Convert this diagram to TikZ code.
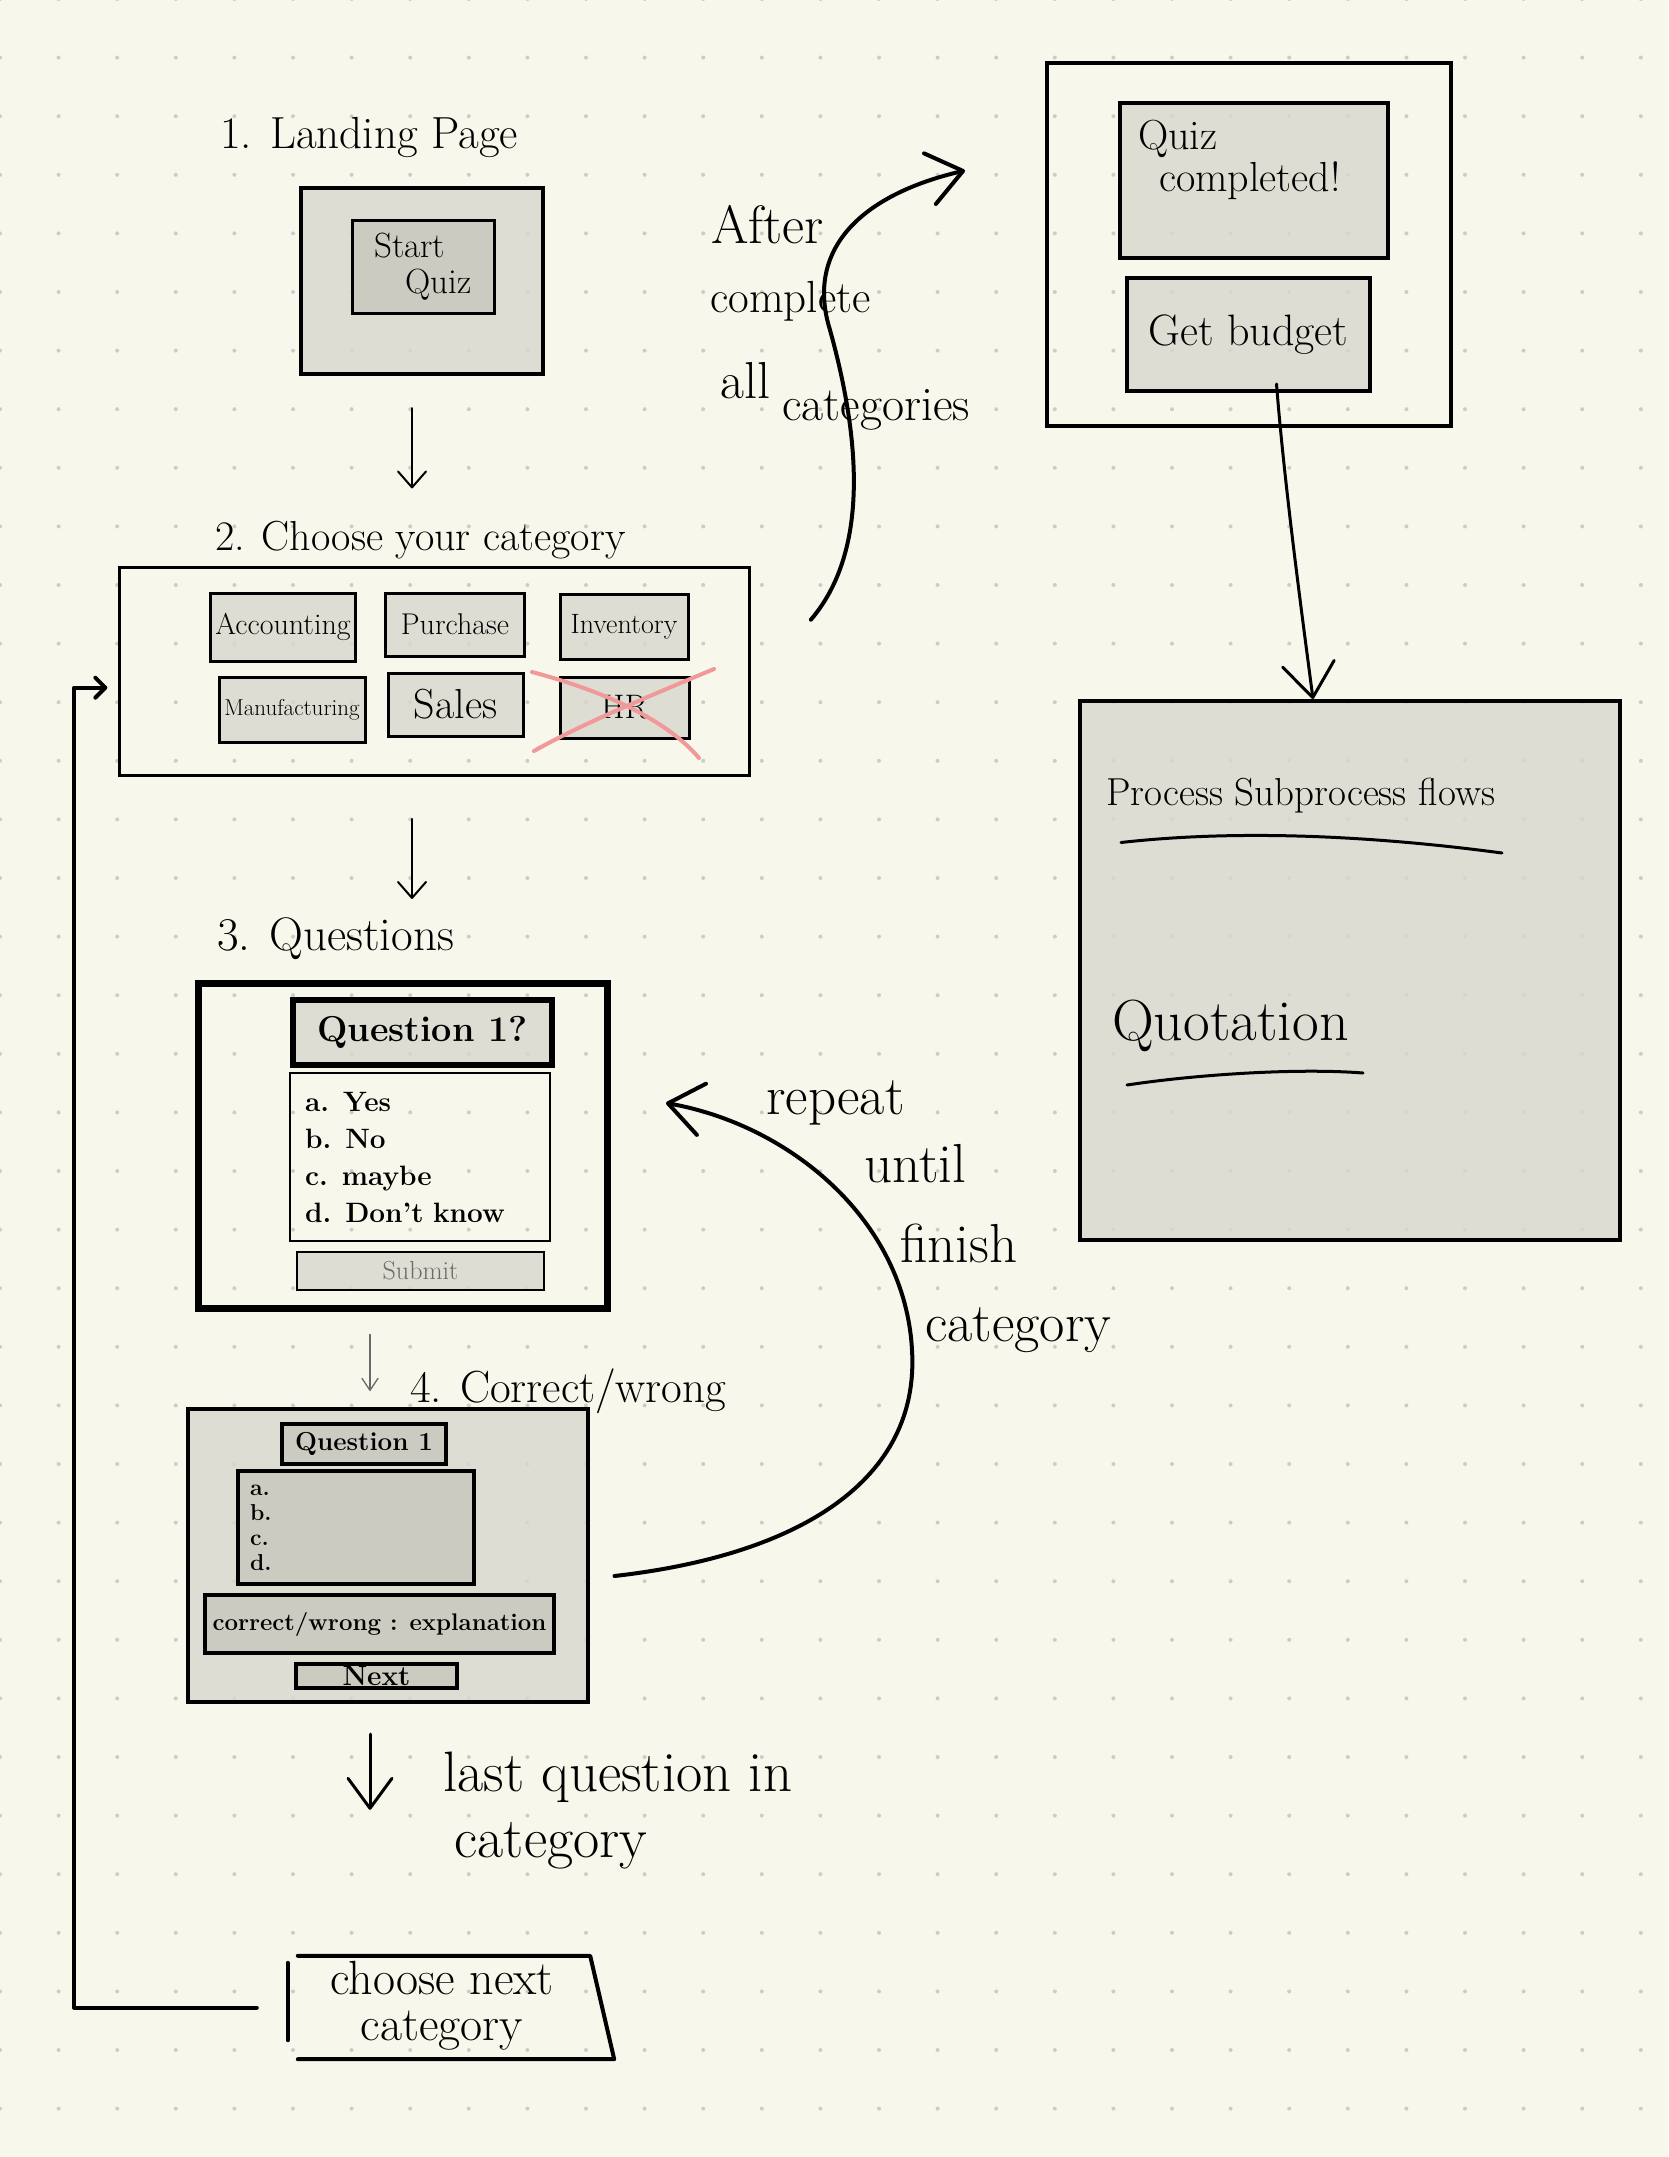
\documentclass[tikz,border=0pt]{standalone}
\usetikzlibrary{arrows.meta}
\definecolor{paper}{RGB}{248,247,236}
\definecolor{panel}{RGB}{215,215,206}
\definecolor{panelDark}{RGB}{203,203,193}
\definecolor{dotGrey}{RGB}{205,205,197}
\definecolor{crossPink}{RGB}{241,152,152}
\definecolor{penGrey}{RGB}{105,105,105}
\newcommand{\hw}[2]{\fontsize{#1}{#2}\selectfont}

\begin{document}
\begin{tikzpicture}[x=1pt,y=-1pt,
  sheet/.style={draw, line width=4pt, fill=panel, fill opacity=0.8, text opacity=1, inner sep=0pt},
  innerpanel/.style={draw, line width=4pt, fill=panelDark, inner sep=0pt},
  catbtn/.style={draw, line width=3pt, fill=panel, fill opacity=0.8, text opacity=1, inner sep=0pt, font=\hw{28}{30}},
  frameonly/.style={draw, inner sep=0pt},
  handtext/.style={inner sep=0pt, font=\hw{55}{60}},
  inkline/.style={line width=#1, line cap=round, line join=round},
  inkline/.default=3pt,
  inkarrow/.style={line width=#1, line cap=round, line join=round, -{Straight Barb[round,length=34pt,width=52pt]}},
  inkarrow/.default=4pt]
\useasboundingbox (0,0) rectangle (1668,2157);
\fill[paper] (0,0) rectangle (1668,2157);
\foreach \i in {0,...,28}{\foreach \j in {0,...,37}{\fill[dotGrey] (58.6*\i,58.6*\j-1) circle (2);}}

%Shape: Rectangle (1. landing page)
\node[sheet, minimum width=242, minimum height=186] (landing) at (422,281) {};
\node[innerpanel, line width=3pt, minimum width=142, minimum height=93, align=left, font=\hw{35}{36}] (startQuiz) at (423,266.5) {Start\\\hspace*{0.9em}Quiz};
% Text Node
\node[handtext, anchor=base west, font=\hw{45}{50}] (landTitle) at (220,148) {1. Landing Page};

% Text Node
\node[handtext, anchor=base west, font=\hw{42}{48}] (catTitle) at (215,550) {2. Choose your category};
%Shape: Rectangle (2. categories)
\node[frameonly, line width=2.5pt, minimum width=630, minimum height=208] (catBox) at (434.6,671.7) {};
\node[catbtn, minimum width=145, minimum height=68, font=\hw{30}{32}] (acc) at (283,627) {Accounting};
\node[catbtn, minimum width=139, minimum height=63, font=\hw{30}{32}] (purch) at (455,624.5) {Purchase};
\node[catbtn, minimum width=128, minimum height=65] (inv) at (624,626.5) {Inventory};
\node[catbtn, minimum width=146, minimum height=65, font=\hw{23}{24}] (manu) at (292,709.5) {Manufacturing};
\node[catbtn, minimum width=135, minimum height=63, font=\hw{42}{44}] (sales) at (455.5,704.5) {Sales};
\node[catbtn, minimum width=129, minimum height=61, font=\hw{34}{36}] (hr) at (624.5,707.5) {HR};
%Curve Lines (crossed out)
\draw[inkline=4pt, crossPink] (532,672) .. controls (600,690) and (665,718) .. (699,758);
\draw[inkline=4pt, crossPink] (714,669) .. controls (640,700) and (580,725) .. (534,751) -- (541,747);

%Straight Lines
\draw[inkline=2pt, -{Straight Barb[round,length=16pt,width=28pt]}, shorten <=32pt, shorten >=32pt] ([xshift=-10pt]landing.south) -- ([xshift=-10pt]landing.south |- catTitle.north);

% Text Node
\node[handtext, anchor=base west, font=\hw{47}{50}] (qTitle) at (217,950) {3. Questions};
\draw[inkline=2pt, -{Straight Barb[round,length=16pt,width=28pt]}, shorten <=42pt, shorten >=18pt] ([xshift=-22.6pt]catBox.south) -- ([xshift=-22.6pt]catBox.south |- qTitle.north);

%Shape: Rectangle (3. question)
\node[frameonly, line width=7pt, minimum width=409, minimum height=325] (qBox) at (402.5,1145.5) {};
\node[frameonly, line width=6pt, fill=panel, fill opacity=0.8, text opacity=1, minimum width=259, minimum height=65, font=\bfseries\hw{36}{40}] (qHead) at (422.5,1032.5) {Question 1?};
\node[frameonly, line width=1.5pt, minimum width=260, minimum height=168, text width=230, align=left, font=\bfseries\hw{28}{37}] (qAns) at (420,1157) {a. Yes\\b. No\\c. maybe\\d. Don't know};
\node[frameonly, line width=1.5pt, fill=panel, fill opacity=0.8, text opacity=1, minimum width=247, minimum height=38, text=penGrey, font=\hw{26}{30}] (qSubmit) at (420.5,1271) {Submit};

% Text Node
\node[handtext, anchor=base west, font=\hw{45}{50}] (fTitle) at (410,1402) {4. Correct/wrong};
%Shape: Rectangle (4. feedback)
\node[sheet, minimum width=400, minimum height=293] (fBox) at (388,1555.5) {};
\node[innerpanel, minimum width=164, minimum height=40, font=\bfseries\hw{26}{30}] (fHead) at (364,1444) {Question 1};
\node[innerpanel, minimum width=236, minimum height=113, text width=212, align=left, font=\bfseries\hw{23}{25}] (fAns) at (356,1527.5) {a.\\b.\\c.\\d.};
\node[innerpanel, minimum width=349, minimum height=58, font=\bfseries\hw{24}{28}] (fExpl) at (379.5,1624) {correct/wrong : explanation};
\node[innerpanel, minimum width=161, minimum height=24, font=\bfseries\hw{28}{28}] (fNext) at (376.5,1676) {Next};

\draw[inkline=1.3pt, penGrey, -{Straight Barb[round,length=12pt,width=16pt]}, shorten <=23pt, shorten >=16pt] ([xshift=-32.5pt]qBox.south) -- ([xshift=-32.5pt]qBox.south |- fBox.north);

%Shape: choose next category
\node[inner sep=0pt, minimum width=316, minimum height=103] (nextCat) at (456,2007.5) {};
\draw[inkline=4pt] (nextCat.north west) -- ([xshift=-24pt]nextCat.north east) -- (nextCat.south east) -- (nextCat.south west);
\draw[inkline=4pt] ([xshift=-10pt,yshift=-7pt]nextCat.north west) -- ([xshift=-10pt,yshift=19pt]nextCat.south west);
% Text Node
\node[handtext, align=center, font=\hw{48}{46}] (nextCatText) at (442,2006) {choose next\\category};

%Straight Lines
\draw[inkline=3pt, -{Straight Barb[round,length=30pt,width=44pt]}, shorten <=30pt, shorten >=146pt] ([xshift=-18pt]fBox.south) -- ([xshift=-18pt]fBox.south |- nextCat.north);
% Text Node
\node[handtext, anchor=north west, align=left, font=\hw{57}{66}] (lastNote) at (443,1752) {last question in\\\hspace*{0.2em}category};

%Straight Lines (back to categories)
\draw[inkline=4pt, -{Straight Barb[round,length=10pt,width=20pt]}, shorten >=11pt] ([xshift=-41pt]nextCat.west) -- ++(-183,0) |- ([yshift=-16pt]catBox.west);

%Shape: Rectangle (quiz completed)
\node[frameonly, line width=4pt, minimum width=404, minimum height=363] (doneBox) at (1249,244.5) {};
\node[sheet, minimum width=268, minimum height=155] (doneMsg) at (1254,180.5) {};
\node[handtext, anchor=north west, align=left, font=\hw{42}{42}] (doneText) at (1138,120) {Quiz\\\hspace*{0.5em}completed!};
\node[sheet, minimum width=243, minimum height=113, font=\hw{44}{46}] (budget) at (1248.5,334.5) {Get budget};

% Text Node
\node[handtext, anchor=base west, font=\hw{54}{60}] (afterA) at (711,243) {After};
\node[handtext, anchor=base west, font=\hw{45}{50}] (afterB) at (710,312) {complete};
\node[handtext, anchor=base west, font=\hw{52}{56}] (afterC) at (720,398) {all};
\node[handtext, anchor=base west, font=\hw{48}{50}] (afterD) at (782,420) {categories};
%Curve Lines
\draw[inkarrow=4pt] ([xshift=60pt,yshift=52pt]catBox.east) .. controls (875,545) and (855,420) .. (830,330) .. controls (805,250) and (860,195) .. ([xshift=-80pt,yshift=74pt]doneBox.west);

%Shape: Rectangle (process flows)
\node[sheet, minimum width=540, minimum height=539] (proc) at (1350,970.5) {};
\node[handtext, anchor=base west, font=\hw{39}{42}] (procHead) at (1106,805) {Process Subprocess flows};
\draw[inkline=3pt] (1121,842.5) .. controls (1250,828) and (1390,838) .. (1502,853);
\node[handtext, anchor=base west, font=\hw{58}{60}] (quote) at (1112,1040) {Quotation};
\draw[inkline=3pt] (1127,1085) .. controls (1200,1074) and (1300,1068) .. (1363,1073);
%Curve Lines
\draw[inkarrow=3pt] ([xshift=28pt,yshift=9pt]budget.south) .. controls (1284,480) and (1300,600) .. ([xshift=-37pt]proc.north);

% Text Node
\node[handtext, anchor=base west] (repA) at (766,1114) {repeat};
\node[handtext, anchor=base west] (repB) at (864,1182) {until};
\node[handtext, anchor=base west] (repC) at (900,1262) {finish};
\node[handtext, anchor=base west] (repD) at (925,1341) {category};
%Curve Lines
\draw[inkarrow=4pt] ([xshift=24.5pt,yshift=-20.5pt]fBox.east) .. controls (800,1555) and (920,1480) .. (912,1350) .. controls (905,1220) and (790,1125) .. ([xshift=55.5pt,yshift=42.5pt]qBox.east);

\end{tikzpicture}
\end{document}
